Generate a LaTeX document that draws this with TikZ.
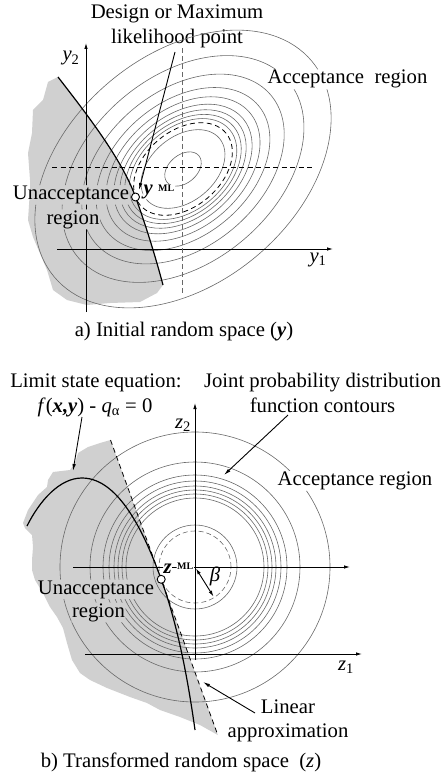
\documentclass[tikz,border=0pt]{standalone}
\usepackage{fontspec}
\setmainfont{Liberation Serif}
\usetikzlibrary{arrows.meta}
\definecolor{shadegray}{RGB}{208,208,208}
\definecolor{contgray}{RGB}{105,105,105}
\begin{document}
\begin{tikzpicture}[x=1pt,y=-1pt,
 lbl/.style={font=\fontsize{20.7}{25}\selectfont, inner sep=0.6pt},
 mlsup/.style={font=\fontsize{10}{11}\selectfont\bfseries, inner sep=0.5pt},
 contour/.style={draw=contgray, line width=0.6pt},
 axisln/.style={line width=0.9pt, -{Latex[length=6pt,width=3.5pt]}},
 limitln/.style={line width=1.2pt},
 pointer/.style={line width=0.9pt, -{Latex[length=7pt,width=3.5pt]}},
 dpt/.style={circle, draw, fill=white, line width=0.9pt, inner sep=0pt, minimum size=8pt},
 dashblack/.style={dash pattern=on 5pt off 3.5pt, line width=0.8pt},
 dashgray/.style={dash pattern=on 5pt off 3pt, line width=0.8pt, draw=contgray}
]
\useasboundingbox (0,0) rectangle (443,778);

% ---------- shaded regions ----------
\fill[shadegray] (58,77) -- (48,82) -- (43,100) -- (33,110) -- (32,133) -- (28,153) -- (30,180)
  -- (30,190) -- (28,220) -- (33,237) -- (47,270) -- (53,290) -- (67,300) -- (87,305)
  -- (110,303) -- (140,302) -- (157,293) -- (163,285)
  .. controls (155,255) and (145,223) .. (135.5,197)
  .. controls (122,159) and (85,112) .. (58,77) -- cycle;
\fill[shadegray] (110.5,440) -- (100,443) -- (88,447) -- (78,453) -- (75,463) -- (70,470)
  -- (53,472) -- (48,480) -- (47,487) -- (38,495) -- (28,510) -- (23,523) -- (25,528)
  -- (32,535) -- (33,547) -- (32,560) -- (32,570) -- (35,580) -- (43,593) -- (50,607)
  -- (57,617) -- (63,628) -- (67,643) -- (72,660) -- (80,673) -- (90,680) -- (107,688)
  -- (130,697) -- (147,703) -- (160,710) -- (180,717) -- (200,725) -- (217.8,735) -- cycle;

% ---------- texts ----------
\node[lbl, anchor=base] (des1) at (177,18.5) {Design or Maximum};
\node[lbl, anchor=base] (des2) at (177,43.5) {likelihood point};
\node[lbl, anchor=base] (acc1) at (347.5,84) {Acceptance\ \ region};
\node[lbl, anchor=base] (y2l) at (71,61) {\textit{y}\textsubscript{2}};
\node[lbl, anchor=base] (un1) at (71,199.5) {Unacceptance};
\node[lbl, anchor=base] (un2) at (73,224) {region};
\node[lbl, anchor=base west, inner sep=0.3pt] (ymlv) at (143,194.5) {\textbf{\textit{y}}};
\node[mlsup, anchor=base west] (ymls) at (157.5,191) {ML};
\node[lbl, anchor=base] (y1l) at (318,262) {\textit{y}\textsubscript{1}};
\node[lbl, anchor=base] (capa) at (184,336) {a) Initial random space (\textbf{\textit{y}})};

\node[lbl, anchor=base] (lse) at (96,387) {Limit state equation:};
\node[lbl, anchor=base] (jpd1) at (322.5,387) {Joint probability distribution};
\node[lbl, anchor=base] (feq) at (95,412) {\textit{f}(\textbf{\textit{x,y}}) - \textit{q}\textsubscript{α} = 0};
\node[lbl, anchor=base] (jpd2) at (322.5,412) {function contours};
\node[lbl, anchor=base] (z2l) at (183,428) {\textit{z}\textsubscript{2}};
\node[lbl, anchor=base] (acc2) at (355,485.5) {Acceptance region};
\node[lbl, anchor=base west, inner sep=0.3pt] (zmlv) at (163,573) {\textbf{\textit{z}}};
\node[mlsup, anchor=base west] (zmls) at (176.5,569.5) {ML};
\node[lbl, anchor=base] (bet) at (215,581) {\textit{β}};
\node[lbl, anchor=base] (ub1) at (96,594) {Unacceptance};
\node[lbl, anchor=base] (ub2) at (98.5,617) {region};
\node[lbl, anchor=base] (z1l) at (346,670) {\textit{z}\textsubscript{1}};
\node[lbl, anchor=base] (lin1) at (288,713.5) {Linear};
\node[lbl, anchor=base] (lin2) at (288,737) {approximation};
\node[lbl, anchor=base] (capb) at (181,767.5) {b) Transformed random space\ \ (\textit{z})};

% ---------- lines, knocked out behind labels ----------
\begin{scope}
\clip (-5,-5) rectangle (450,785)
  (un1.south west) rectangle (un1.north east)
  (un2.south west) rectangle (un2.north east)
  (acc1.south west) rectangle (acc1.north east)
  (ymlv.south west) rectangle (ymlv.north east)
  (ymls.south west) rectangle (ymls.north east)
  (acc2.south west) rectangle (acc2.north east)
  (zmlv.south west) rectangle (zmlv.north east)
  (zmls.south west) rectangle (zmls.north east)
  (ub1.south west) rectangle (ub1.north east)
  (ub2.south west) rectangle (ub2.north east);

% top: contours
\begin{scope}[shift={(183,169)}, rotate=40]
\foreach \s in {0.37,0.85,1.09,1.18,1.28,1.4,1.56,1.76,2.05,2.45,3.0}
  \draw[contour] (0,0) ellipse [x radius=\s*56pt, y radius=\s*38pt];
\draw[dashblack] (0,0) ellipse [x radius=56pt, y radius=38pt];
\end{scope}
% top: axes and centre cross
\coordinate (y2a) at (86,312); \coordinate (y2b) at (86,43);
\coordinate (y1a) at (57,249); \coordinate (y1b) at (333,249);
\draw[axisln] (y2a) -- (y2b);
\draw[axisln] (y1a) -- (y1b);
\coordinate (hca) at (52,167); \coordinate (hcb) at (312,167);
\coordinate (vca) at (182,48); \coordinate (vcb) at (182,295);
\draw[dashblack] (hca) -- (hcb);
\draw[dashgray] (vca) -- (vcb);

% bottom: contours
\coordinate (zc) at (195,567);
\foreach \r in {42,69,73,77,81,86,92,105,135}
  \draw[contour] (zc) circle [radius=\r pt];
\draw[contour, dash pattern=on 5pt off 3pt] (zc) circle [radius=36pt];
% bottom: axes
\coordinate (z2a) at (195,660); \coordinate (z2b) at (195,403);
\coordinate (z1a) at (85,654); \coordinate (z1b) at (362,654);
\coordinate (cla) at (73,567); \coordinate (clb) at (350,567);
\draw[axisln] (z2a) -- (z2b);
\draw[axisln] (z1a) -- (z1b);
\draw[axisln] (cla) -- (clb);
\end{scope}

% ---------- limit state curves ----------
\draw[limitln] (58,77) .. controls (85,112) and (122,159) .. (135.5,197)
  .. controls (145,223) and (155,255) .. (163,285);
\draw[limitln] (27,526) .. controls (40,500) and (60,478) .. (82,478)
  .. controls (120,478) and (145.8,537) .. (161.2,579.3)
  .. controls (178,626) and (188,680) .. (195,730);
\coordinate (lta) at (110.5,440); \coordinate (ltb) at (217.8,735);
\draw[dashblack] (lta) -- (ltb);

% ---------- pointers ----------
\coordinate (dsa) at (175,52); \coordinate (dsb) at (139,190);
\draw[pointer] (dsa) -- (dsb);
\coordinate (fa) at (82,417); \coordinate (fb) at (73,471);
\draw[pointer] (fa) -- (fb);
\coordinate (ja) at (288,415); \coordinate (jb) at (224,475);
\draw[pointer] (ja) -- (jb);
\coordinate (la) at (255,713); \coordinate (lb) at (203,682);
\draw[pointer] (la) -- (lb);
\coordinate (ba) at (196,568.5); \coordinate (bb) at (213.5,596.5);
\draw[line width=0.9pt, {Latex[length=6pt,width=3.5pt]}-{Latex[length=6pt,width=3.5pt]}] (ba) -- (bb);

% ---------- design points ----------
\node[dpt] (ypt) at (135.5,197) {};
\node[dpt] (zpt) at (161.2,579.3) {};
\end{tikzpicture}
\end{document}
